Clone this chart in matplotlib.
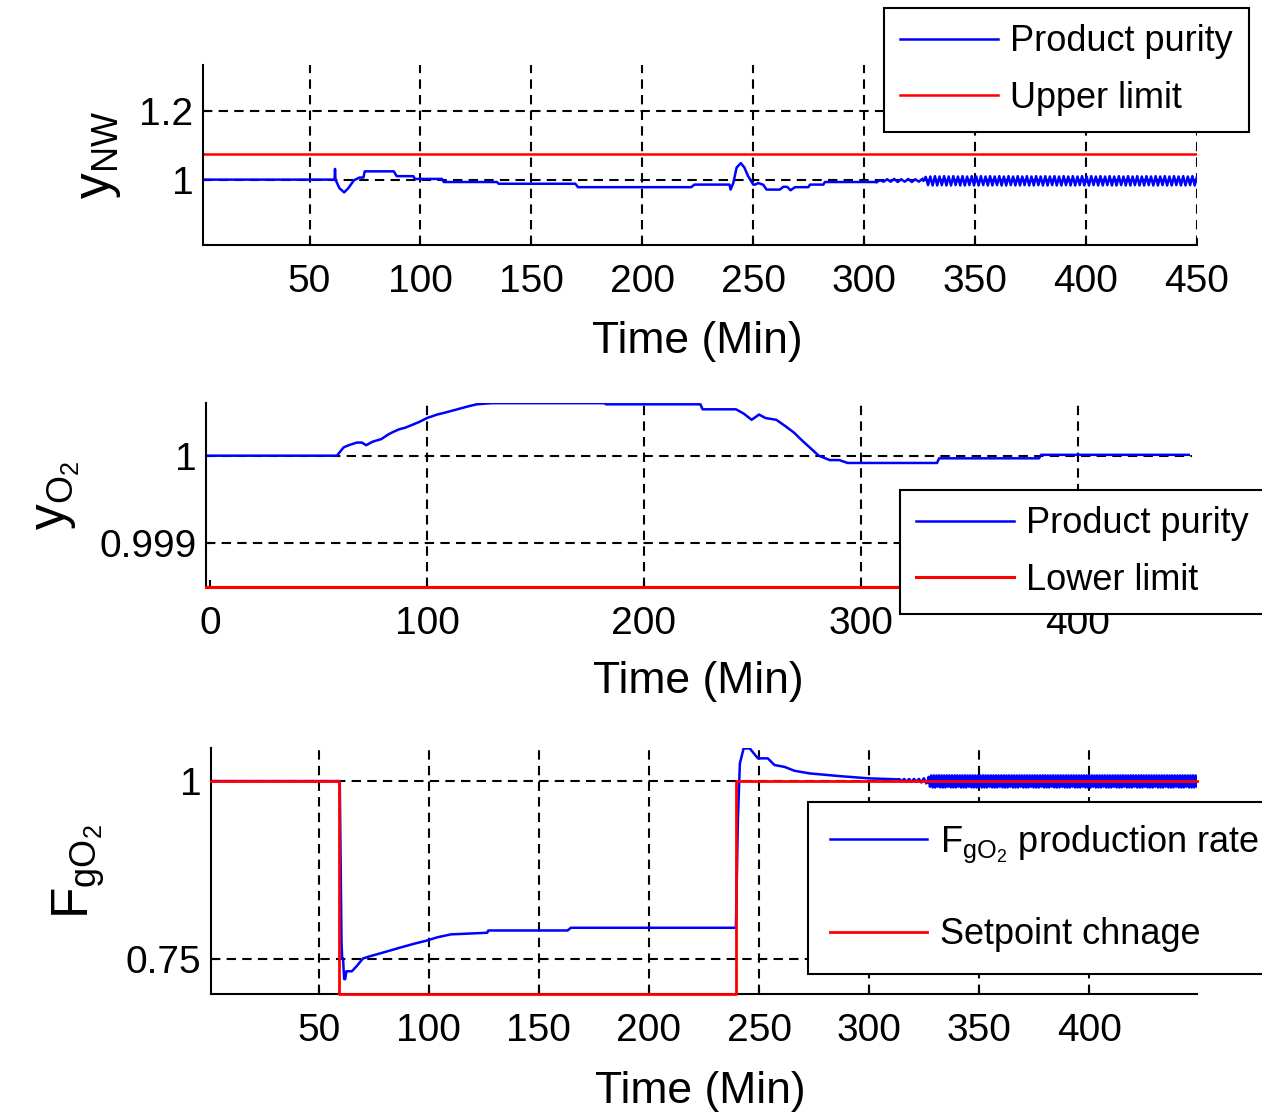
import numpy as np
import matplotlib
matplotlib.use("Agg")
import matplotlib.pyplot as plt

plt.rcParams['font.family'] = ['Liberation Sans', 'DejaVu Sans']
plt.rcParams['mathtext.fontset'] = 'custom'
plt.rcParams['mathtext.rm'] = 'Liberation Sans'
plt.rcParams['mathtext.it'] = 'Liberation Sans:italic'

# ---- panel 1 : y_NW product purity ----
nw_t = [2, 61.3, 61.5, 61.7, 63.5, 65.6, 67.5, 70, 72.5, 74.3, 74.9, 88, 89.3, 96.8,
        97.5, 109.7, 110.5, 134.5, 135.2, 169.8, 171, 222, 223.5, 239.3, 239.8, 241,
        242.5, 244.4, 246, 247.7, 250, 250.8, 252.3, 254.5, 256, 262, 263.5, 265.3,
        266.8, 268.8, 274.8, 275.6, 281.6, 282.3, 305.6]
nw_y = [1.0, 1.0, 1.031, 1.0, 0.975, 0.963, 0.975, 0.998, 1.006, 1.006, 1.024, 1.024, 1.010, 1.010,
        1.002, 1.002, 0.993, 0.993, 0.988, 0.988, 0.978, 0.978, 0.9855, 0.9855, 0.971, 0.99,
        1.035, 1.048, 1.035, 1.010, 0.9855, 0.9855, 0.990, 0.985, 0.971, 0.971, 0.979, 0.979,
        0.969, 0.978, 0.978, 0.9855, 0.9855, 0.993, 0.993]
nw_osc1_y = [0.993, 0.998, 0.994, 1.001, 0.994, 1.002, 0.993, 1.001, 0.994, 1.002,
             0.993, 1.001, 0.994, 1.002]
nw_osc2_y = [0.997, 1.008, 0.984, 1.009, 0.983, 1.010, 0.983, 1.009, 0.984, 1.010,
             0.983, 1.009, 0.983, 1.010, 0.984, 1.009, 0.983, 1.010, 0.983, 1.009,
             0.984, 1.010, 0.983, 1.009, 0.983, 1.010, 0.984, 1.009, 0.983, 1.010,
             0.983, 1.009, 0.984, 1.010, 0.983, 1.009, 0.983, 1.010, 0.984, 1.009,
             0.983, 1.010, 0.983, 1.009, 0.984, 1.010, 0.983, 1.009, 0.983, 1.010,
             0.984, 1.009, 0.983, 1.010, 0.983, 1.009, 0.984, 1.010, 0.983, 1.009,
             0.983, 1.010, 0.984, 1.009, 0.983, 1.010, 0.983, 1.009, 0.984, 1.010,
             0.983, 1.009, 0.983, 1.010, 0.984, 1.009, 0.983, 1.010, 0.983, 1.009,
             0.984, 1.010, 0.983, 1.009, 0.983, 1.010, 0.984, 1.009, 0.983, 1.010,
             0.983, 1.009, 0.984, 1.010, 0.983, 1.009, 0.983, 1.010, 0.984, 1.009,
             0.983, 1.010, 0.983, 1.009, 0.984, 1.010, 0.983, 1.009, 0.983, 1.010,
             0.984, 1.009, 0.983, 1.010, 0.983, 1.009, 0.984, 1.010, 0.983, 1.009]
nw_upper = 1.075

# ---- panel 2 : y_O2 product purity ----
o2_t = [-2, 58.5, 61.6, 64, 67.7, 70, 72, 75, 79, 82, 84, 87, 90, 93, 96.5, 100, 104.7,
        108, 111, 114, 117, 120, 123, 127, 130, 181.8, 182.5, 226, 227, 242.4, 246,
        249.6, 253, 256, 261, 265, 269, 273, 277, 280.5, 285.6, 290, 293.8, 335, 336,
        382, 383, 451]
o2_y = [1.0, 1.0, 1.000095, 1.00012, 1.00015, 1.00015, 1.00012, 1.00016, 1.00019, 1.00024,
        1.000266, 1.0003, 1.00032, 1.00035, 1.000386, 1.00043, 1.00047, 1.00049, 1.00051,
        1.00053, 1.00055, 1.00057, 1.000587, 1.000595, 1.0006, 1.0006, 1.000587, 1.000587,
        1.00053, 1.00053, 1.00048, 1.00041, 1.00047, 1.00043, 1.00041, 1.00034, 1.000266,
        1.00017, 1.00008, 1.0, 0.99995, 0.99995, 0.999917, 0.999917, 0.99997, 0.99997,
        1.00001, 1.00001]
o2_lower = 0.9985

# ---- panel 3 : F_gO2 production rate ----
f_t = [1, 59.5, 60.3, 60.6, 61.0, 61.5, 62.0, 62.5, 65, 67.4, 70, 73, 76, 81, 86.5, 93.5,
       98.7, 104, 110, 126.5, 127, 163, 164.5, 239.5, 240.4, 241.3, 243, 245.8, 249.5, 254,
       257, 261.6, 266, 273, 286.6, 300, 313.7]
f_y = [1.0, 1.0, 0.773, 0.75, 0.75, 0.721, 0.721, 0.732, 0.732, 0.74, 0.75, 0.753, 0.7556,
       0.76, 0.765, 0.771, 0.775, 0.780, 0.784, 0.7863, 0.7895, 0.7895, 0.7933, 0.7933, 0.945,
       1.025, 1.046, 1.046, 1.032, 1.032, 1.0226, 1.02, 1.0146, 1.0108, 1.007, 1.0038, 1.0024]
f_osc1_y = [1.0024, 1.000, 1.003, 0.999, 1.003, 0.999, 1.003, 0.999, 1.003, 0.998, 1.004, 0.997]
f_osc2_y = [0.998, 1.006, 0.992, 1.008, 0.991, 1.008, 0.991, 1.008, 0.992, 1.008,
            0.991, 1.008, 0.991, 1.008, 0.991, 1.008, 0.992, 1.008, 0.991, 1.008,
            0.991, 1.008, 0.991, 1.008, 0.992, 1.008, 0.991, 1.008, 0.991, 1.008,
            0.991, 1.008, 0.992, 1.008, 0.991, 1.008, 0.991, 1.008, 0.991, 1.008,
            0.992, 1.008, 0.991, 1.008, 0.991, 1.008, 0.991, 1.008, 0.992, 1.008,
            0.991, 1.008, 0.991, 1.008, 0.991, 1.008, 0.992, 1.008, 0.991, 1.008,
            0.991, 1.008, 0.991, 1.008, 0.992, 1.008, 0.991, 1.008, 0.991, 1.008,
            0.991, 1.008, 0.992, 1.008, 0.991, 1.008, 0.991, 1.008, 0.991, 1.008,
            0.992, 1.008, 0.991, 1.008, 0.991, 1.008, 0.991, 1.008, 0.992, 1.008,
            0.991, 1.008, 0.991, 1.008, 0.991, 1.008, 0.992, 1.008, 0.991, 1.008,
            0.991, 1.008, 0.991, 1.008, 0.992, 1.008, 0.991, 1.008, 0.991, 1.008,
            0.991, 1.008, 0.992, 1.008, 0.991, 1.008, 0.991, 1.008, 0.991, 1.008,
            0.992, 1.008, 0.991, 1.008, 0.991, 1.008, 0.991, 1.008, 0.992, 1.008,
            0.991, 1.008, 0.991, 1.008, 0.991, 1.008, 0.992, 1.008, 0.991, 1.008,
            0.991, 1.008, 0.991, 1.008, 0.992, 1.008, 0.991, 1.008, 0.991, 1.008,
            0.991, 1.008, 0.992, 1.008, 0.991, 1.008, 0.991, 1.008, 0.991, 1.008,
            0.992, 1.008, 0.991, 1.008, 0.991, 1.008, 0.991, 1.008, 0.992, 1.008,
            0.991, 1.008, 0.991, 1.008, 0.991, 1.008, 0.992, 1.008, 0.991, 1.008,
            0.991, 1.008, 0.991, 1.008, 0.992, 1.008, 0.991, 1.008, 0.991, 1.008,
            0.991, 1.008, 0.992, 1.008, 0.991, 1.008, 0.991, 1.008, 0.991, 1.008,
            0.992, 1.008, 0.991, 1.008, 0.991, 1.008, 0.991, 1.008, 0.992, 1.008]
sp_t = [1, 59.2, 59.2, 239.6, 239.6, 449]
sp_y = [1.0, 1.0, 0.7, 0.7, 1.0, 1.0]

BLUE = '#0000ff'
RED = '#ff0000'
TICK_FS = 28
LAB_FS = 32
YLAB_FS = 37
LEG_FS = 26

W, H = 1262, 1113
fig = plt.figure(figsize=(W / 100, H / 100), dpi=100)


def px_axes(left, top, right, bottom):
    return fig.add_axes([left / W, 1 - bottom / H, (right - left) / W, (bottom - top) / H])


def style(ax, xticks, xlabels, yticks, ylabels):
    for s in ['top', 'right']:
        ax.spines[s].set_visible(False)
    for s in ['left', 'bottom']:
        ax.spines[s].set_linewidth(1.5)
    ax.set_xticks(xticks)
    ax.set_xticklabels(xlabels)
    ax.set_yticks(yticks)
    ax.set_yticklabels(ylabels)
    ax.tick_params(direction='in', length=5, width=1.5, labelsize=TICK_FS)
    ax.tick_params(axis='x', pad=14)
    ax.tick_params(axis='y', pad=7)
    ax.grid(True, color='black', linestyle=(0, (4.5, 3)), linewidth=1.5)
    ax.set_axisbelow(True)
    ax.patch.set_alpha(0)


def legend(ax, handles, labels, x, y, spacing, pad):
    leg = ax.legend(handles, labels, loc='upper left', bbox_to_anchor=(x / W, 1 - y / H),
                    bbox_transform=fig.transFigure, fontsize=LEG_FS, frameon=True,
                    fancybox=False, framealpha=1, edgecolor='black', borderpad=pad,
                    borderaxespad=0, handlelength=2.7, handletextpad=0.35,
                    labelspacing=spacing)
    leg.get_frame().set_linewidth(1.5)
    return leg


# panel 1
ax1 = px_axes(203, 65, 1197, 245)
l1, = ax1.plot(nw_t, nw_y, color=BLUE, lw=1.8)
ax1.plot(np.linspace(305.6, 326.2, len(nw_osc1_y)), nw_osc1_y, color=BLUE, lw=1.8)
ax1.plot(np.linspace(326.7, 450, len(nw_osc2_y)), nw_osc2_y, color=BLUE, lw=1.8)
l2 = ax1.axhline(nw_upper, color=RED, lw=1.8)
ax1.set_xlim(2, 450)
ax1.set_ylim(0.81, 1.333)
style(ax1, [50, 100, 150, 200, 250, 300, 350, 400, 450],
      ['50', '100', '150', '200', '250', '300', '350', '400', '450'],
      [1.0, 1.2], ['1', '1.2'])
ax1.set_xlabel('Time (Min)', fontsize=LAB_FS)
ax1.xaxis.set_label_coords(0.497, -0.425)
ax1.set_ylabel(r'$\mathregular{y_{NW}}$', fontsize=YLAB_FS)
ax1.yaxis.set_label_coords(-0.0805, 0.5)
legend(ax1, [l1, l2], ['Product purity', 'Upper limit'], 884, 8, 0.6, 0.45)

# panel 2
ax2 = px_axes(206, 403, 1192, 587)
m1, = ax2.plot(o2_t, o2_y, color=BLUE, lw=1.8)
m2, = ax2.plot([-2, 452.5], [o2_lower, o2_lower], color=RED, lw=2.2, clip_on=False, zorder=5)
ax2.set_xlim(-1.8, 452.5)
ax2.set_ylim(0.9985, 1.000602)
style(ax2, [0, 100, 200, 300, 400], ['0', '100', '200', '300', '400'],
      [0.999, 1.0], ['0.999', '1'])
ax2.get_xgridlines()[0].set_visible(False)
ax2.set_xlabel('Time (Min)', fontsize=LAB_FS)
ax2.xaxis.set_label_coords(0.499, -0.40)
ax2.set_ylabel(r'$\mathregular{y_{O_2}}$', fontsize=YLAB_FS)
ax2.yaxis.set_label_coords(-0.1258, 0.5)
legend(ax2, [m1, m2], ['Product purity', 'Lower limit'], 900, 490, 0.6, 0.45)

# panel 3
ax3 = px_axes(211, 748, 1197, 994)
n1, = ax3.plot(f_t, f_y, color=BLUE, lw=1.8)
ax3.plot(np.linspace(313.7, 326.0, len(f_osc1_y)), f_osc1_y, color=BLUE, lw=1.8)
ax3.plot(np.linspace(326.5, 449.5, len(f_osc2_y)), f_osc2_y, color=BLUE, lw=1.8)
n2, = ax3.plot(sp_t, sp_y, color=RED, lw=2.0, clip_on=False, zorder=5)
ax3.set_xlim(1, 449)
ax3.set_ylim(0.7, 1.0466)
style(ax3, [50, 100, 150, 200, 250, 300, 350, 400],
      ['50', '100', '150', '200', '250', '300', '350', '400'],
      [0.75, 1.0], ['0.75', '1'])
ax3.set_xlabel('Time (Min)', fontsize=LAB_FS)
ax3.xaxis.set_label_coords(0.496, -0.311)
ax3.set_ylabel(r'$\mathregular{F_{gO_2}}$', fontsize=YLAB_FS)
ax3.yaxis.set_label_coords(-0.1055, 0.496)
legend(ax3, [n1, n2], [r'$\mathregular{F_{gO_2}}$ production rate', 'Setpoint chnage'],
       808, 802, 1.45, 0.6)

fig.savefig('out.png', dpi=100)
